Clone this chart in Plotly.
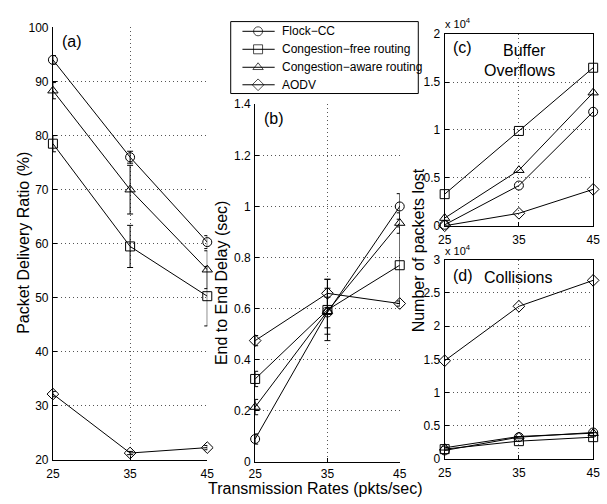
import plotly.graph_objects as go

rates = [25, 35, 45]
names = ["Flock\u2212CC", "Congestion\u2212free routing", "Congestion\u2212aware routing", "AODV"]
symbols = ["circle-open", "square-open", "triangle-up-open", "diamond-open"]

# (a) Packet delivery ratio (%)
pdr_flock = [94.0, 76.0, 60.3]
pdr_cfree = [78.5, 59.5, 50.3]
pdr_caware = [88.3, 70.0, 55.2]
pdr_aodv = [32.2, 21.3, 22.3]
pdr_err_flock = [0.8, 1.1, 1.2]
pdr_err_cfree = [1.5, 3.9, 5.5]
pdr_err_caware = [1.5, 4.5, 3.5]
pdr_err_aodv = [0.5, 0.3, 0.4]

# (b) End-to-end delay (sec)
dly_flock = [0.09, 0.585, 1.0]
dly_cfree = [0.325, 0.595, 0.77]
dly_caware = [0.215, 0.59, 0.935]
dly_aodv = [0.475, 0.66, 0.62]
dly_err_flock = [0.02, 0.06, 0.05]
dly_err_cfree = [0.03, 0.12, 0.15]
dly_err_caware = [0.03, 0.09, 0.04]
dly_err_aodv = [0.02, 0.055, 0.01]

# (c) Buffer overflows (packets lost)
buf_flock = [100, 4200, 11900]
buf_cfree = [3300, 9900, 16500]
buf_caware = [800, 5800, 13900]
buf_aodv = [0, 1300, 3800]

# (d) Collisions (packets lost)
col_flock = [1300, 3300, 4000]
col_cfree = [1500, 2700, 3300]
col_caware = [1700, 3400, 3900]
col_aodv = [14800, 23000, 26900]

W, H = 607, 504
def xd(a, b):
    return [a / W, b / W]
def yd(top, bottom):
    return [1 - bottom / H, 1 - top / H]

FONT = "Liberation Sans, Arial, sans-serif"
MS = 9

fig = go.Figure()

def add(series, errs, xa, ya):
    for i, (vals, nm, sym) in enumerate(zip(series, names, symbols)):
        kw = {}
        if errs is not None:
            kw["error_y"] = dict(type="data", array=errs[i], visible=True,
                                 color="black", thickness=1, width=3)
        fig.add_trace(go.Scatter(
            x=rates, y=vals, name=nm, mode="lines+markers",
            line=dict(color="black", width=1),
            marker=dict(symbol=sym, size=MS, color="black", line=dict(width=1, color="black")),
            xaxis=xa, yaxis=ya, showlegend=False, cliponaxis=False, **kw))

add([pdr_flock, pdr_cfree, pdr_caware, pdr_aodv],
    [pdr_err_flock, pdr_err_cfree, pdr_err_caware, pdr_err_aodv], "x", "y")
add([dly_flock, dly_cfree, dly_caware, dly_aodv],
    [dly_err_flock, dly_err_cfree, dly_err_caware, dly_err_aodv], "x2", "y2")
add([buf_flock, buf_cfree, buf_caware, buf_aodv], None, "x3", "y3")
add([col_flock, col_cfree, col_caware, col_aodv], None, "x4", "y4")

# legend (drawn on an overlay axis measured in page pixels)
LEG_L, LEG_R, LEG_T, LEG_B = 229, 421, 15, 89
leg_rows = [25, 43.5, 62, 80]
for nm, sym, ry in zip(names, symbols, leg_rows):
    fig.add_trace(go.Scatter(
        x=[241, 257, 274], y=[ry, ry, ry], mode="lines+markers",
        line=dict(color="black", width=1),
        marker=dict(symbol=sym, size=[0, MS, 0], color="black", line=dict(width=1, color="black")),
        xaxis="x5", yaxis="y5", showlegend=False, hoverinfo="skip", cliponaxis=False))

tickfont = dict(family=FONT, size=12, color="black")
grid = dict(showgrid=True, gridcolor="#555", griddash="1px,3px", gridwidth=1)
common_x = dict(range=[25, 45], tickvals=rates, ticktext=[str(r) for r in rates],
                showline=True, linecolor="black", linewidth=1, ticks="inside",
                ticklen=4, tickcolor="black", tickfont=tickfont, zeroline=False,
                **grid)
common_y = dict(showline=True, linecolor="black", linewidth=1, ticks="inside",
                ticklen=4, tickcolor="black", tickfont=tickfont, zeroline=False,
                ticklabelstandoff=1, **grid)

fig.update_layout(
    width=W, height=H, margin=dict(l=0, r=0, t=0, b=0),
    paper_bgcolor="white", plot_bgcolor="rgba(0,0,0,0)",
    font=dict(family=FONT, color="black"),
    showlegend=False,
    xaxis=dict(domain=xd(47, 205), anchor="y", ticklabelstandoff=3, **common_x),
    yaxis=dict(domain=yd(21, 466), anchor="x", range=[20, 100],
               tickvals=list(range(20, 101, 10)), **common_y),
    xaxis2=dict(domain=xd(254, 402), anchor="y2", ticklabelstandoff=1, **common_x),
    yaxis2=dict(domain=yd(100, 468), anchor="x2", range=[0, 1.4],
                tickvals=[0, 0.2, 0.4, 0.6, 0.8, 1.0, 1.2, 1.4],
                ticktext=["0", "0.2", "0.4", "0.6", "0.8", "1", "1.2", "1.4"], **common_y),
    xaxis3=dict(domain=xd(448, 600), anchor="y3", mirror=True, ticklabelstandoff=3, **common_x),
    yaxis3=dict(domain=yd(28, 225), anchor="x3", range=[0, 20000], mirror=True,
                tickvals=[0, 5000, 10000, 15000, 20000],
                ticktext=["0", "0.5", "1", "1.5", "2"], **common_y),
    xaxis4=dict(domain=xd(448, 600), anchor="y4", mirror=True, ticklabelstandoff=3, **common_x),
    yaxis4=dict(domain=yd(260, 465), anchor="x4", range=[0, 30000], mirror=True,
                tickvals=[0, 5000, 10000, 15000, 20000, 25000, 30000],
                ticktext=["0", "0.5", "1", "1.5", "2", "2.5", "3"], **common_y),
    xaxis5=dict(domain=[0, 1], anchor="y5", range=[0, W], visible=False, fixedrange=True),
    yaxis5=dict(domain=[0, 1], anchor="x5", range=[H, 0], visible=False, fixedrange=True),
    shapes=[dict(type="rect", xref="paper", yref="paper",
                 x0=LEG_L / W, x1=LEG_R / W, y0=1 - LEG_B / H, y1=1 - LEG_T / H,
                 line=dict(color="black", width=1), fillcolor="white", layer="below")],
)

ann = []
def txt(x, y, s, size=16, angle=0, xanchor="center"):
    ann.append(dict(x=x / W, y=1 - y / H, xref="paper", yref="paper", text=s,
                    showarrow=False, textangle=angle, xanchor=xanchor, yanchor="middle",
                    font=dict(family=FONT, size=size, color="black")))

txt(17, 243, "Packet Delivery Ratio (%)", 16, -90)
txt(219, 283, "End to End Delay (sec)", 16, -90)
txt(421, 250, "Number of packets lost", 16, -90)
txt(316, 495, "Transmission Rates (pkts/sec)", 16)
txt(54, 35, "(a)", 16, xanchor="left")
txt(261, 115, "(b)", 16, xanchor="left")
txt(454, 42, "(c)", 16, xanchor="left")
txt(530, 45, "Buffer", 16)
txt(525, 65, "Overflows", 16)
txt(454, 276, "(d)", 16, xanchor="left")
txt(486, 278, "Collisions", 16, xanchor="left")
txt(446, 16, "x 10<sup>4</sup>", 11, xanchor="left")
txt(446, 250, "x 10<sup>4</sup>", 11, xanchor="left")
for nm, ry in zip(names, leg_rows):
    txt(279, ry, nm, 12, xanchor="left")
fig.update_layout(annotations=ann)

fig.write_html("out.html")
